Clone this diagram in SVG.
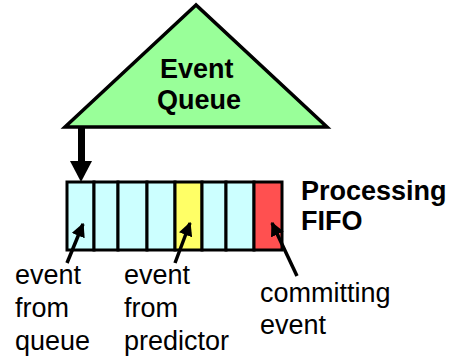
<svg xmlns="http://www.w3.org/2000/svg" width="451" height="360" viewBox="0 0 451 360">
  <defs>
    <style>
      .lbl { font-family: "Liberation Sans", Arial, sans-serif; font-size: 27px; fill: #000; }
      .bold { font-weight: bold; }
      .cell { stroke: #000; stroke-width: 3; }
      .blue { fill: #CCFFFF; }
      .yellow { fill: #FFFF66; }
      .red { fill: #FF5050; }
      .ptr { stroke: #000; stroke-width: 3.5; fill: none; }
    </style>
    <marker id="head" viewBox="0 0 10 10" refX="9" refY="5" markerWidth="4" markerHeight="4" orient="auto" markerUnits="strokeWidth">
      <path d="M0,0 L10,5 L0,10 Z" fill="#000"/>
    </marker>
  </defs>
  <rect width="451" height="360" fill="#fff"/>

  <g id="event-queue">
    <polygon points="196,5 65,127 327,127" fill="#99FF99" stroke="#000" stroke-width="3.5" stroke-linejoin="miter"/>
    <text class="lbl bold" x="160" y="78">Event</text>
    <text class="lbl bold" x="157" y="109">Queue</text>
  </g>

  <g id="processing-fifo">
    <rect class="cell blue" x="67" y="182" width="27" height="68"/>
    <rect class="cell blue" x="94" y="182" width="24" height="68"/>
    <rect class="cell blue" x="118" y="182" width="29" height="68"/>
    <rect class="cell blue" x="147" y="182" width="28" height="68"/>
    <rect class="cell yellow" x="175" y="182" width="27" height="68"/>
    <rect class="cell blue" x="202" y="182" width="24" height="68"/>
    <rect class="cell blue" x="226" y="182" width="28" height="68"/>
    <rect class="cell red" x="254" y="182" width="28" height="68"/>
    <text class="lbl bold" x="301" y="200">Processing</text>
    <text class="lbl bold" x="301" y="230">FIFO</text>
  </g>

  <g id="label-queue">
    <text class="lbl" x="15" y="284">event</text>
    <text class="lbl" x="15" y="317">from</text>
    <text class="lbl" x="15" y="350">queue</text>
  </g>
  <g id="label-predictor">
    <text class="lbl" x="124" y="284">event</text>
    <text class="lbl" x="124" y="317">from</text>
    <text class="lbl" x="124" y="350">predictor</text>
  </g>
  <g id="label-commit">
    <text class="lbl" x="260" y="302">committing</text>
    <text class="lbl" x="260" y="334">event</text>
  </g>

  <g id="connectors">
    <!-- queue feeds the FIFO head -->
    <line x1="81.5" y1="127" x2="81.5" y2="163" stroke="#000" stroke-width="7"/>
    <polygon points="70,161 92,161 81,182" fill="#000"/>
    <!-- label pointers -->
    <line class="ptr" x1="67" y1="263" x2="83" y2="224" marker-end="url(#head)"/>
    <line class="ptr" x1="175" y1="263" x2="190" y2="223" marker-end="url(#head)"/>
    <line class="ptr" x1="297" y1="276" x2="272" y2="223" marker-end="url(#head)"/>
  </g>
</svg>
